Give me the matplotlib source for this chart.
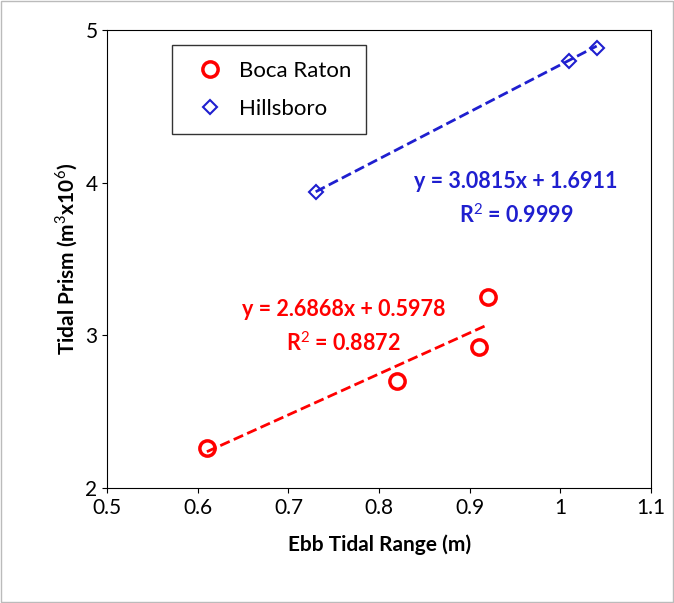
import matplotlib
matplotlib.use("Agg")
import matplotlib.pyplot as plt
import numpy as np

boca_x = [0.61, 0.82, 0.91, 0.92]
boca_y = [2.26, 2.70, 2.92, 3.25]
hill_x = [0.73, 1.01, 1.04]
hill_y = [3.94, 4.80, 4.88]
boca_fit = (2.6868, 0.5978)
hill_fit = (3.0815, 1.6911)

plt.rcParams['font.family'] = ['Lato', 'DejaVu Sans']
plt.rcParams['mathtext.fontset'] = 'custom'
plt.rcParams['mathtext.rm'] = 'Lato'
plt.rcParams['mathtext.bf'] = 'Lato:bold'
fig = plt.figure(figsize=(6.74, 6.03), dpi=100)
fig.patches.append(plt.Rectangle((0.002, 0.002), 0.996, 0.996, transform=fig.transFigure,
                                 fill=False, edgecolor='#bbbbbb', lw=1))
ax = fig.add_axes([0.159, 0.191, 0.807, 0.759])
red, blue = '#ff0000', '#1f1fcf'
ax.plot(boca_x, boca_y, 'o', ms=11, mfc='none', mec=red, mew=2.5, label='Boca Raton', ls='none')
ax.plot(hill_x, hill_y, 'D', ms=7, mfc='none', mec=blue, mew=1.5, label='Hillsboro', ls='none')
xb = np.array([min(boca_x), max(boca_x)])
ax.plot(xb, boca_fit[0]*xb+boca_fit[1], '--', color=red, lw=2)
xh = np.array([min(hill_x), max(hill_x)])
ax.plot(xh, hill_fit[0]*xh+hill_fit[1], '--', color=blue, lw=2)
ax.set_xlim(0.5, 1.1); ax.set_ylim(2, 5)
ax.set_xticks([0.5, 0.6, 0.7, 0.8, 0.9, 1.0, 1.1])
ax.set_xticklabels(['0.5', '0.6', '0.7', '0.8', '0.9', '1', '1.1'])
ax.set_yticks([2, 3, 4, 5])
ax.tick_params(labelsize=15, direction='out')
ax.set_xlabel('Ebb Tidal Range (m)', fontsize=15, fontweight='bold', labelpad=12)
ax.set_ylabel('Tidal Prism (m$^3$x10$^6$)', fontsize=15, fontweight='bold')
ax.text(0.761, 3.055, 'y = 2.6868x + 0.5978\nR$^2$ = 0.8872', color=red, fontsize=15.5,
        fontweight='bold', ha='center', va='center', linespacing=1.5)
ax.text(0.951, 3.895, 'y = 3.0815x + 1.6911\nR$^2$ = 0.9999', color=blue, fontsize=15.5,
        fontweight='bold', ha='center', va='center', linespacing=1.5)
leg = ax.legend(loc='upper left', bbox_to_anchor=(0.119, 0.967), borderaxespad=0, fontsize=16,
                frameon=True, fancybox=False, edgecolor='black', handletextpad=0.3,
                borderpad=0.7, labelspacing=0.8)
fig.savefig('out.png', dpi=100)
